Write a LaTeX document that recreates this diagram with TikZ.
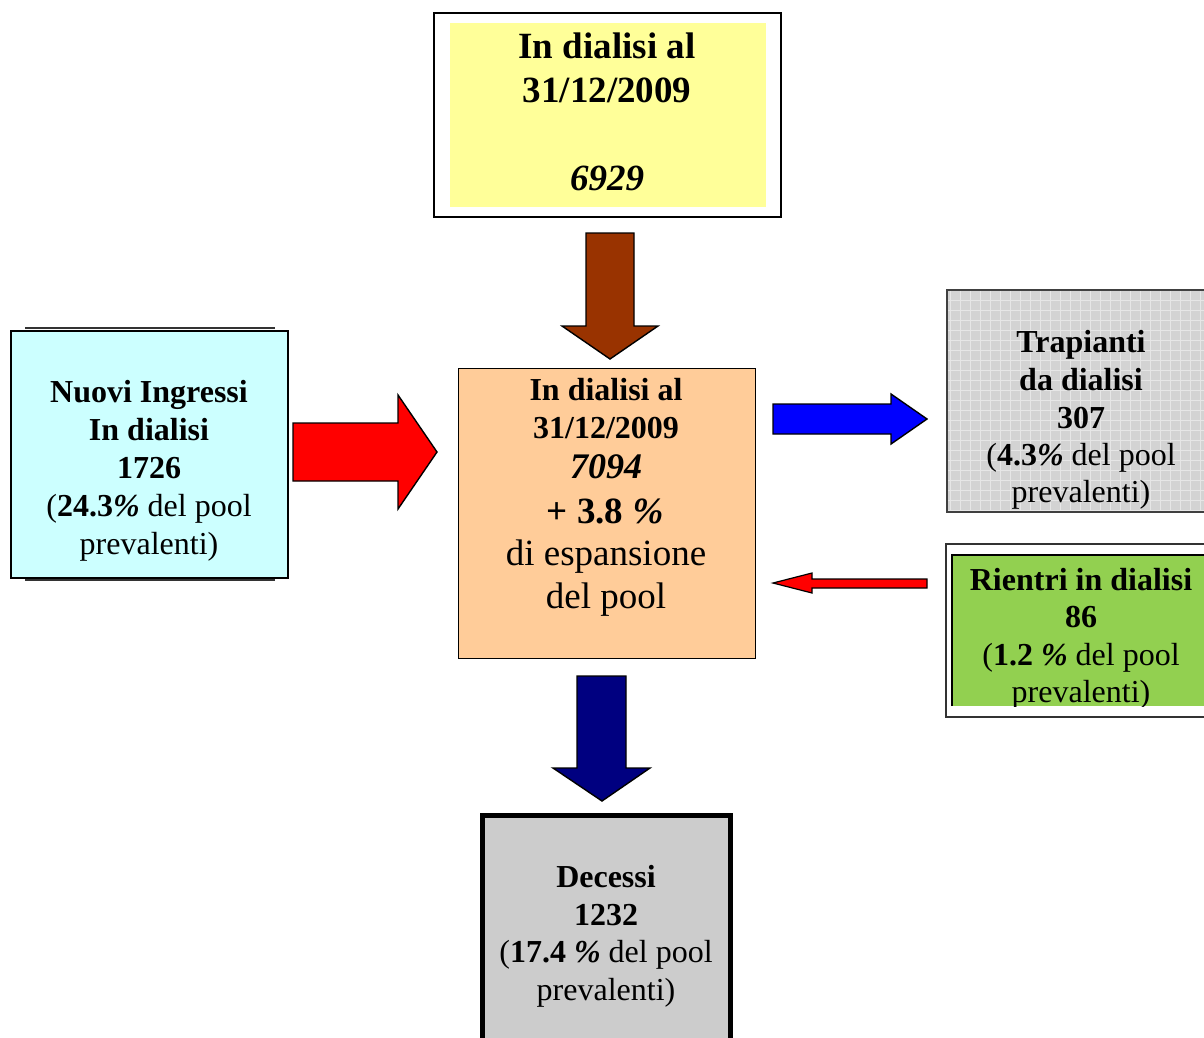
\documentclass[tikz,border=0pt]{standalone}
\usepackage{fontspec}
\setmainfont{Liberation Serif}
\definecolor{yellowbox}{HTML}{FFFF99}
\definecolor{peach}{HTML}{FFCC99}
\definecolor{cyanbox}{HTML}{CCFFFF}
\definecolor{greybox}{HTML}{CCCCCC}
\definecolor{greenbox}{HTML}{92D050}
\definecolor{gridbg}{HTML}{D3D3D3}
\definecolor{gridln}{HTML}{E6E6E6}
\definecolor{brownarrow}{HTML}{993300}
\definecolor{navyarrow}{HTML}{000080}
\begin{document}
\begin{tikzpicture}[x=1pt,y=-1pt,
  blockarrow/.style={draw=black, line width=1.4pt, line join=miter},
  boxnode/.style={inner sep=0pt, outer sep=0pt, anchor=north west},
  tb/.style={font=\fontsize{32}{38}\selectfont\bfseries, anchor=base, inner sep=0pt},
  tr/.style={font=\fontsize{32}{38}\selectfont, anchor=base, inner sep=0pt},
  tbig/.style={font=\fontsize{37}{44}\selectfont\bfseries, anchor=base, inner sep=0pt},
  tbigr/.style={font=\fontsize{37}{44}\selectfont, anchor=base, inner sep=0pt}]
\useasboundingbox (0,0) rectangle (1204,1037);
\fill[white] (0,0) rectangle (1204,1037);

% ---------- top box ----------
\node[boxnode, draw=black, line width=1.5pt, minimum width=347pt, minimum height=204pt] (topouter) at (434,13) {};
\node[boxnode, fill=yellowbox, minimum width=316pt, minimum height=184pt] (topbox) at (450,23) {};
\node[tbig] (t1) at (607,58) {In dialisi al};
\node[tbig] (t2) at (607,102) {31/12/2009};
\node[tbig] (t3) at (607,190) {\itshape 6929};

% ---------- centre box ----------
\node[boxnode, draw=black, line width=1pt, fill=peach, minimum width=297pt, minimum height=290pt] (centre) at (458,368) {};
\node[tb] (c1) at (606,400) {In dialisi al};
\node[tb] (c2) at (606,438) {31/12/2009};
\node[tb, font=\fontsize{36}{44}\selectfont\bfseries\itshape] (c3) at (606,478) {7094};
\node[tbig] (c4) at (605,523) {+ 3.8 \textit{\%}};
\node[tbigr] (c5) at (606,565) {di espansione};
\node[tbigr] (c6) at (606,608) {del pool};

% ---------- left box ----------
\draw[black!80, line width=1.2pt] (25,328) -- (275,328);
\draw[black!80, line width=1.2pt] (25,580) -- (275,580);
\node[boxnode, draw=black, line width=1.5pt, fill=cyanbox, minimum width=277pt, minimum height=247pt] (left) at (11,331) {};
\node[tb] (l1) at (149,402) {Nuovi Ingressi};
\node[tb] (l2) at (149,440) {In dialisi};
\node[tb] (l3) at (149,478) {1726};
\node[tr] (l4) at (149,516) {(\textbf{24.3\textit{\%}} del pool};
\node[tr] (l5) at (149,554) {prevalenti)};

% ---------- trapianti box ----------
\begin{scope}
  \clip (947,290) rectangle (1215,512);
  \fill[gridbg] (947,290) rectangle (1215,512);
  \draw[gridln, line width=0.7pt, step=10pt] (940,280) grid (1220,520);
\end{scope}
\node[boxnode, draw=black!75, line width=1.5pt, minimum width=268pt, minimum height=222pt] (trap) at (947,290) {};
\node[tb] (r1) at (1081,352) {Trapianti};
\node[tb] (r2) at (1081,390) {da dialisi};
\node[tb] (r3) at (1081,428) {307};
\node[tr] (r4) at (1081,465) {(\textbf{4.3\textit{\%}} del pool};
\node[tr] (r5) at (1081,502) {prevalenti)};

% ---------- rientri box ----------
\node[boxnode, draw=black!80, line width=1.3pt, minimum width=270pt, minimum height=173pt] (rientouter) at (946,544) {};
\node[boxnode, fill=greenbox, minimum width=262pt, minimum height=151pt] (rientri) at (952,555) {};
\draw[black, line width=2pt] (rientri.south west) -- (rientri.north west) -- (1210,555);
\begin{scope}
  \clip (952,555) rectangle (1210,706);
  \node[tb] (g1) at (1081,590) {Rientri in dialisi};
  \node[tb] (g2) at (1081,627) {86};
  \node[tr] (g3) at (1081,665) {(\textbf{1.2 \textit{\%}} del pool};
  \node[tr] (g4) at (1081,702) {prevalenti)};
\end{scope}

% ---------- decessi box ----------
\node[boxnode, draw=black, line width=4.5pt, fill=greybox, minimum width=248pt, minimum height=240pt] (dec) at (482.5,815.5) {};
\node[tb] (d1) at (606,887) {Decessi};
\node[tb] (d2) at (606,925) {1232};
\node[tr] (d3) at (606,962) {(\textbf{17.4 \textit{\%}} del pool};
\node[tr] (d4) at (606,1000) {prevalenti)};

% ---------- block arrows ----------
\draw[blockarrow, fill=brownarrow] (586,233) -- (634,233) -- (634,326) -- (658,326) -- (610,359) -- (562,326) -- (586,326) -- cycle;
\draw[blockarrow, fill=red] (293,423) -- (398,423) -- (398,395) -- (437,452) -- (398,509) -- (398,481) -- (293,481) -- cycle;
\draw[blockarrow, fill=blue] (773,404) -- (891,404) -- (891,394) -- (927,419) -- (891,444) -- (891,434) -- (773,434) -- cycle;
\draw[blockarrow, line width=1.2pt, fill=red] (927,579) -- (812,579) -- (812,573) -- (773,583) -- (812,593) -- (812,588) -- (927,588) -- cycle;
\draw[blockarrow, fill=navyarrow] (577,676) -- (626,676) -- (626,768) -- (650,768) -- (602,801) -- (553,768) -- (577,768) -- cycle;
\end{tikzpicture}
\end{document}
